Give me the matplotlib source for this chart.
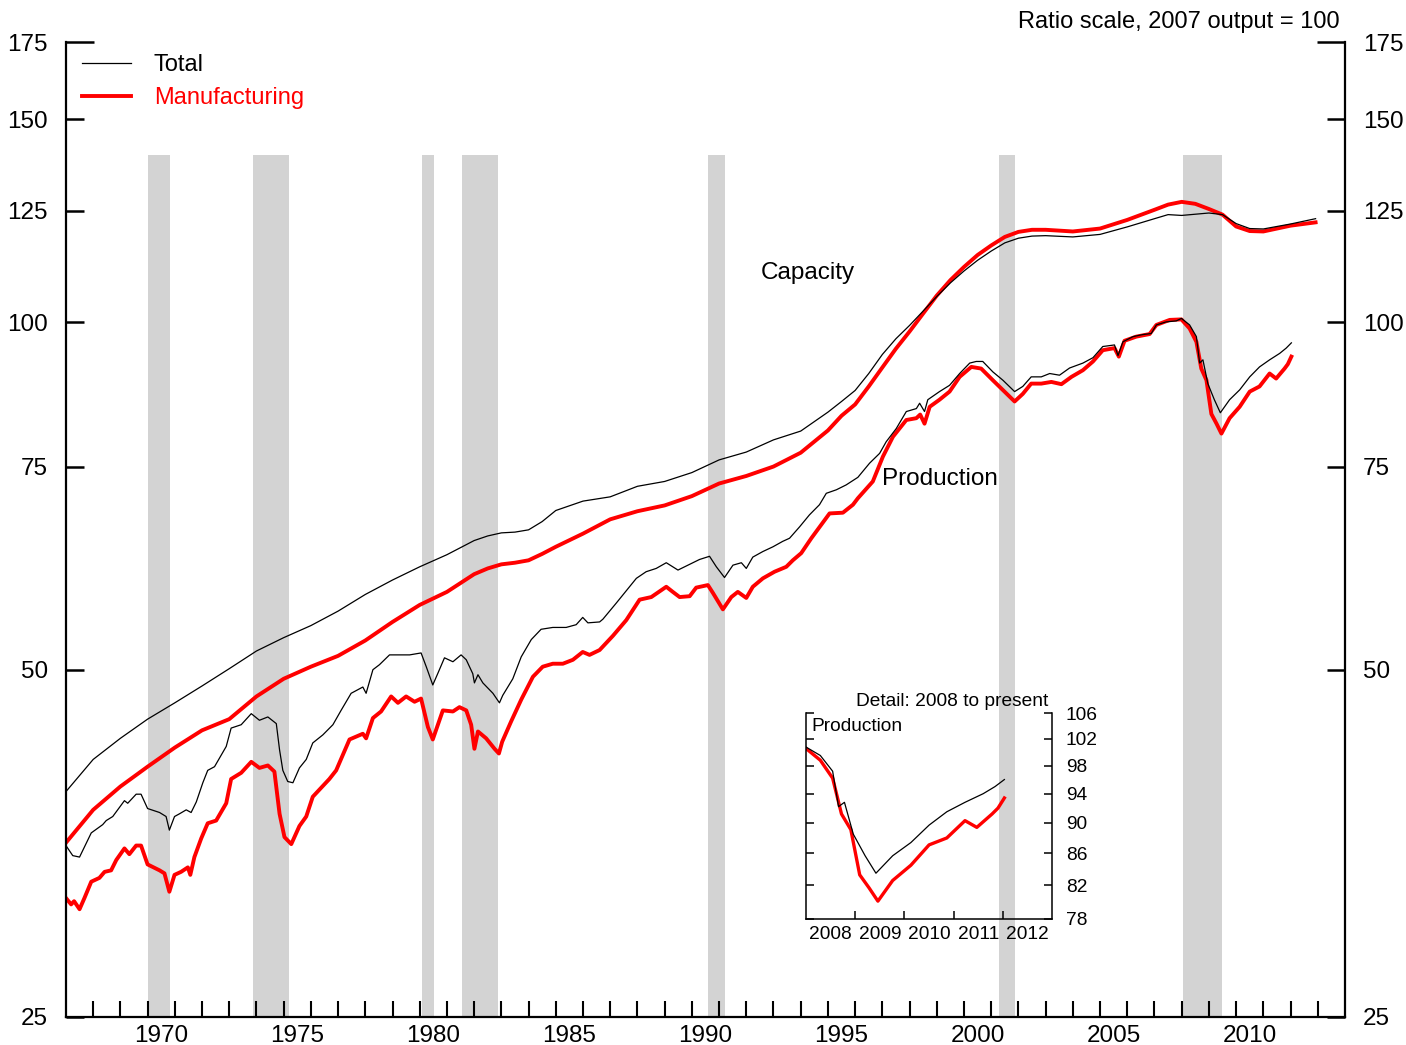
import matplotlib
matplotlib.use("Agg")
import matplotlib.pyplot as plt
from matplotlib.lines import Line2D
from matplotlib.ticker import FixedLocator, FixedFormatter, NullFormatter, NullLocator

plt.rcParams['font.family'] = ['Liberation Sans', 'DejaVu Sans']

# recessions (decimal years)
rec_start = [1970.0, 1973.89, 1980.07, 1981.57, 1990.58, 2001.27, 2008.04]
rec_end = [1970.84, 1975.18, 1980.51, 1982.86, 1991.2, 2001.86, 2009.47]

# capacity, index 2007 output = 100
cap_years = [1967.0, 1968.0, 1969.0, 1970.0, 1971.0, 1972.0, 1973.0, 1974.0, 1975.0, 1976.0,
             1977.0, 1978.0, 1979.0, 1980.0, 1981.0, 1982.0, 1982.5, 1983.0, 1983.5, 1984.0,
             1984.5, 1985.0, 1986.0, 1987.0, 1988.0, 1989.0, 1990.0, 1991.0, 1992.0, 1993.0,
             1994.0, 1995.0, 1995.5, 1996.0, 1996.5, 1997.0, 1997.5, 1998.0, 1998.5, 1999.0,
             1999.5, 2000.0, 2000.5, 2001.0, 2001.5, 2002.0, 2002.5, 2003.0, 2004.0, 2005.0,
             2006.0, 2007.0, 2007.5, 2008.0, 2008.5, 2009.0, 2009.5, 2010.0, 2010.5, 2011.0,
             2011.5, 2012.0, 2012.92]
cap_total = [39.2, 41.8, 43.6, 45.3, 46.8, 48.4, 50.1, 51.9, 53.3, 54.6,
             56.2, 58.1, 59.8, 61.4, 62.9, 64.7, 65.3, 65.7, 65.8, 66.1,
             67.2, 68.7, 70.0, 70.6, 72.1, 72.8, 74.1, 76.0, 77.2, 79.1,
             80.5, 83.6, 85.4, 87.3, 90.3, 93.8, 96.8, 99.4, 102.3, 105.3,
             108.2, 110.8, 113.2, 115.3, 117.2, 118.3, 118.8, 118.9, 118.6, 119.2,
             121.0, 123.0, 124.0, 123.8, 124.1, 124.4, 124.0, 121.8, 120.6, 120.5,
             121.1, 121.7, 123.0]
cap_manuf = [35.4, 37.8, 39.6, 41.2, 42.8, 44.3, 45.3, 47.4, 49.1, 50.3,
             51.4, 53.0, 55.0, 56.9, 58.4, 60.5, 61.2, 61.7, 61.9, 62.2,
             63.0, 63.9, 65.6, 67.5, 68.6, 69.4, 70.7, 72.5, 73.6, 75.0,
             77.1, 80.6, 83.0, 84.9, 88.0, 91.4, 94.9, 98.2, 101.8, 105.5,
             108.8, 111.7, 114.4, 116.6, 118.6, 119.8, 120.3, 120.3, 119.9, 120.6,
             122.7, 125.2, 126.5, 127.2, 126.7, 125.4, 124.0, 121.1, 120.0, 119.9,
             120.6, 121.3, 122.1]

# industrial production, total
ip_total_years = [1967.0, 1967.25, 1967.5, 1967.68, 1967.93, 1968.35, 1968.48, 1968.72, 1969.15, 1969.27,
                  1969.58, 1969.76, 1970.0, 1970.44, 1970.68, 1970.8, 1970.99, 1971.17, 1971.42, 1971.6,
                  1971.79, 1972.03, 1972.21, 1972.46, 1972.89, 1973.07, 1973.44, 1973.81, 1974.11, 1974.42,
                  1974.73, 1974.85, 1974.97, 1975.15, 1975.34, 1975.58, 1975.83, 1976.07, 1976.44, 1976.81,
                  1977.11, 1977.48, 1977.91, 1978.03, 1978.28, 1978.52, 1978.89, 1979.26, 1979.63, 1980.05,
                  1980.24, 1980.48, 1980.66, 1980.91, 1981.22, 1981.52, 1981.71, 1981.95, 1982.01, 1982.14,
                  1982.32, 1982.69, 1982.93, 1983.05, 1983.42, 1983.73, 1984.1, 1984.46, 1984.89, 1985.38,
                  1985.75, 1985.99, 1986.18, 1986.61, 1986.73, 1987.22, 1987.71, 1987.96, 1988.32, 1988.69,
                  1989.06, 1989.49, 1989.92, 1990.28, 1990.65, 1990.9, 1991.2, 1991.51, 1991.82, 1992.0,
                  1992.24, 1992.61, 1992.98, 1993.34, 1993.59, 1993.96, 1994.32, 1994.69, 1994.94, 1995.31,
                  1995.67, 1996.1, 1996.53, 1996.9, 1997.14, 1997.51, 1997.88, 1998.25, 1998.37, 1998.55,
                  1998.67, 1999.1, 1999.47, 1999.84, 2000.21, 2000.45, 2000.69, 2001.06, 2001.43, 2001.86,
                  2002.16, 2002.47, 2002.84, 2003.15, 2003.51, 2003.88, 2004.37, 2004.74, 2005.1, 2005.53,
                  2005.66, 2005.84, 2006.21, 2006.57, 2006.88, 2007.07, 2007.43, 2007.8, 2007.99, 2008.29,
                  2008.54, 2008.66, 2008.78, 2008.96, 2009.2, 2009.42, 2009.76, 2010.13, 2010.5, 2010.86,
                  2011.23, 2011.6, 2011.84, 2012.03]
ip_total = [35.2, 34.5, 34.4, 35.1, 36.1, 36.7, 37.0, 37.3, 38.5, 38.3,
            39.0, 39.0, 37.9, 37.6, 37.3, 36.3, 37.3, 37.5, 37.8, 37.6,
            38.4, 39.9, 40.9, 41.2, 42.9, 44.5, 44.8, 45.8, 45.2, 45.5,
            44.9, 42.6, 40.9, 40.0, 39.9, 41.1, 41.8, 43.2, 43.9, 44.8,
            46.1, 47.7, 48.3, 47.7, 50.0, 50.5, 51.5, 51.5, 51.5, 51.7,
            50.3, 48.5, 49.6, 51.2, 50.8, 51.5, 51.0, 49.6, 48.7, 49.5,
            48.7, 47.7, 46.8, 47.5, 49.1, 51.3, 53.1, 54.2, 54.4, 54.4,
            54.7, 55.5, 54.9, 55.0, 55.3, 57.1, 59.0, 60.0, 60.8, 61.2,
            61.9, 61.0, 61.7, 62.3, 62.7, 61.4, 60.1, 61.6, 61.9, 61.2,
            62.6, 63.3, 63.9, 64.6, 65.0, 66.5, 68.1, 69.5, 71.1, 71.6,
            72.3, 73.4, 75.5, 77.0, 78.8, 80.9, 83.7, 84.2, 85.1, 83.7,
            85.7, 87.1, 88.2, 90.3, 92.2, 92.5, 92.5, 90.6, 89.1, 87.1,
            88.0, 89.7, 89.7, 90.3, 90.0, 91.3, 92.2, 93.2, 95.3, 95.6,
            93.6, 96.2, 97.2, 97.6, 97.8, 99.5, 100.1, 100.3, 100.8, 99.5,
            97.2, 92.2, 92.8, 88.5, 85.7, 83.5, 85.7, 87.4, 89.7, 91.5,
            92.8, 94.0, 95.0, 96.0]

# industrial production, manufacturing
ip_manuf_years = [1967.0, 1967.19, 1967.3, 1967.5, 1967.68, 1967.93, 1968.23, 1968.42, 1968.66, 1968.85,
                  1969.15, 1969.33, 1969.58, 1969.76, 1970.0, 1970.44, 1970.62, 1970.8, 1970.99, 1971.23,
                  1971.48, 1971.57, 1971.72, 1971.97, 1972.21, 1972.52, 1972.89, 1973.07, 1973.44, 1973.81,
                  1974.11, 1974.42, 1974.66, 1974.85, 1975.03, 1975.28, 1975.58, 1975.83, 1976.07, 1976.38,
                  1976.68, 1976.93, 1977.42, 1977.91, 1978.03, 1978.28, 1978.58, 1978.95, 1979.2, 1979.5,
                  1979.81, 1980.05, 1980.3, 1980.48, 1980.85, 1981.22, 1981.46, 1981.71, 1981.89, 1982.01,
                  1982.14, 1982.44, 1982.75, 1982.91, 1983.03, 1983.36, 1983.73, 1984.16, 1984.52, 1984.89,
                  1985.26, 1985.63, 1985.99, 1986.24, 1986.61, 1987.1, 1987.59, 1988.08, 1988.51, 1989.06,
                  1989.3, 1989.55, 1989.92, 1990.16, 1990.59, 1990.77, 1991.14, 1991.45, 1991.69, 1992.0,
                  1992.24, 1992.61, 1993.04, 1993.47, 1993.71, 1994.02, 1994.39, 1994.88, 1995.06, 1995.55,
                  1995.92, 1996.1, 1996.65, 1997.02, 1997.39, 1997.88, 1998.25, 1998.39, 1998.55, 1998.74,
                  1999.1, 1999.47, 1999.84, 2000.27, 2000.63, 2001.06, 2001.49, 2001.86, 2002.16, 2002.47,
                  2002.84, 2003.21, 2003.58, 2003.95, 2004.37, 2004.74, 2005.1, 2005.53, 2005.69, 2005.9,
                  2006.33, 2006.82, 2007.07, 2007.56, 2007.99, 2008.29, 2008.54, 2008.72, 2008.91, 2009.09,
                  2009.28, 2009.46, 2009.76, 2010.13, 2010.5, 2010.86, 2011.23, 2011.47, 2011.78, 2011.9,
                  2012.03]
ip_manuf = [31.7, 31.3, 31.5, 31.0, 31.7, 32.75, 33.0, 33.4, 33.5, 34.2,
            35.0, 34.6, 35.2, 35.2, 33.9, 33.5, 33.3, 32.1, 33.2, 33.4,
            33.7, 33.2, 34.4, 35.7, 36.8, 37.0, 38.3, 40.2, 40.7, 41.6,
            41.1, 41.3, 40.8, 37.5, 35.8, 35.3, 36.6, 37.3, 38.8, 39.5,
            40.2, 40.9, 43.5, 44.0, 43.6, 45.4, 46.0, 47.4, 46.8, 47.4,
            46.9, 47.2, 44.6, 43.5, 46.1, 46.0, 46.4, 46.1, 44.8, 42.7,
            44.2, 43.6, 42.7, 42.3, 43.3, 45.1, 47.1, 49.3, 50.3, 50.6,
            50.6, 51.0, 51.8, 51.5, 52.0, 53.5, 55.2, 57.5, 57.8, 59.0,
            58.4, 57.8, 57.9, 58.9, 59.2, 58.3, 56.4, 57.8, 58.4, 57.7,
            59.0, 60.0, 60.8, 61.4, 62.2, 63.1, 65.0, 67.4, 68.3, 68.4,
            69.5, 70.4, 72.8, 76.5, 79.6, 82.3, 82.6, 83.2, 81.7, 84.5,
            85.7, 87.1, 89.7, 91.5, 91.2, 89.1, 87.1, 85.4, 86.7, 88.5,
            88.5, 88.8, 88.4, 89.7, 90.9, 92.5, 94.6, 95.0, 93.4, 96.4,
            97.2, 97.7, 99.5, 100.5, 100.6, 98.8, 96.2, 91.2, 89.1, 83.3,
            81.7, 80.1, 82.6, 84.5, 87.1, 88.0, 90.3, 89.4, 91.2, 92.0,
            93.4]

y_ticks = [25, 50, 75, 100, 125, 150]
y_top = [175]
year_labels = ['1970', '1975', '1980', '1985', '1990', '1995', '2000', '2005', '2010']

inset_yticks = [78, 82, 86, 90, 94, 98, 102, 106]
inset_year_labels = ['2008', '2009', '2010', '2011', '2012']

fig = plt.figure(figsize=(14.06, 10.45), dpi=100)
ax = fig.add_axes([0.0469, 0.0268, 0.9097, 0.933])

for s, e in zip(rec_start, rec_end):
    ax.axvspan(s, e, ymin=0, ymax=0.884, color='#d3d3d3', lw=0, zorder=0)

ax.plot(cap_years, cap_manuf, color='red', lw=2.8, zorder=2)
ax.plot(ip_manuf_years, ip_manuf, color='red', lw=2.8, zorder=2)
ax.plot(cap_years, cap_total, color='black', lw=0.9, zorder=3)
ax.plot(ip_total_years, ip_total, color='black', lw=0.9, zorder=3)

ax.set_yscale('log')
ax.set_ylim(25, 175)
ax.set_xlim(1967, 2014)

ax.yaxis.set_major_locator(FixedLocator(y_ticks))
ax.yaxis.set_major_formatter(FixedFormatter([str(v) for v in y_ticks]))
ax.yaxis.set_minor_locator(FixedLocator(y_top))
ax.yaxis.set_minor_formatter(FixedFormatter([str(v) for v in y_top]))
ax.tick_params(axis='y', which='both', direction='in', left=True, right=True,
               labelleft=True, labelright=True, labelsize=17.5, pad=13, width=1.8)
ax.tick_params(axis='y', which='major', length=13)
ax.tick_params(axis='y', which='minor', length=20)

ax.xaxis.set_major_locator(FixedLocator(list(range(1968, 2014))))
ax.xaxis.set_major_formatter(NullFormatter())
ax.xaxis.set_minor_locator(FixedLocator([int(y) + 0.5 for y in year_labels]))
ax.xaxis.set_minor_formatter(FixedFormatter(year_labels))
ax.tick_params(axis='x', which='major', direction='in', length=11.5, width=1.5)
ax.tick_params(axis='x', which='minor', length=0, labelsize=17.5, pad=6)

ax.spines['top'].set_visible(False)
for side in ['left', 'right', 'bottom']:
    ax.spines[side].set_linewidth(1.6)

ax.text(1994.25, 110.4, 'Capacity', ha='center', va='center', fontsize=17.5)
ax.text(1996.97, 73.2, 'Production', ha='left', va='center', fontsize=17.5)
fig.text(0.9531, 0.979, 'Ratio scale, 2007 output = 100', ha='right', va='center', fontsize=17)

handles = [Line2D([], [], color='black', lw=0.9), Line2D([], [], color='red', lw=2.8)]
ax.legend(handles, ['Total', 'Manufacturing'], loc='upper left', bbox_to_anchor=(0.005, 0.997),
          frameon=False, fontsize=17, handlelength=2.1, handletextpad=0.95,
          labelspacing=0.45, borderaxespad=0, labelcolor=['black', 'red'])

# inset: detail 2008 to present
axi = fig.add_axes([0.5733, 0.1206, 0.175, 0.1971])
axi.set_facecolor('none')
in_t = [(x, v) for x, v in zip(ip_total_years, ip_total) if x >= 2007.99]
in_m = [(x, v) for x, v in zip(ip_manuf_years, ip_manuf) if x >= 2007.99]
axi.plot([p[0] for p in in_m], [p[1] for p in in_m], color='red', lw=2.4)
axi.plot([p[0] for p in in_t], [p[1] for p in in_t], color='black', lw=0.9)
axi.set_yscale('log')
axi.set_ylim(78, 106)
axi.set_xlim(2008, 2013)
axi.yaxis.set_major_locator(FixedLocator(inset_yticks))
axi.yaxis.set_major_formatter(FixedFormatter([str(v) for v in inset_yticks]))
axi.yaxis.set_minor_locator(NullLocator())
axi.tick_params(axis='y', which='major', direction='in', left=True, right=True,
                labelleft=False, labelright=True, length=5.5, width=1.1, labelsize=13.8, pad=10)
axi.xaxis.set_major_locator(FixedLocator([2009, 2010, 2011, 2012]))
axi.xaxis.set_major_formatter(NullFormatter())
axi.xaxis.set_minor_locator(FixedLocator([int(y) + 0.5 for y in inset_year_labels]))
axi.xaxis.set_minor_formatter(FixedFormatter(inset_year_labels))
axi.tick_params(axis='x', which='major', direction='in', length=5.5, width=1.1)
axi.tick_params(axis='x', which='minor', length=0, labelsize=13.8, pad=5)
axi.spines['top'].set_visible(False)
for side in ['left', 'right', 'bottom']:
    axi.spines[side].set_linewidth(1.1)
axi.text(0.023, 0.933, 'Production', transform=axi.transAxes, ha='left', va='center', fontsize=13.8)
axi.text(0.984, 1.058, 'Detail: 2008 to present', transform=axi.transAxes, ha='right', va='center', fontsize=13.8)

fig.savefig('out.png', dpi=100)
